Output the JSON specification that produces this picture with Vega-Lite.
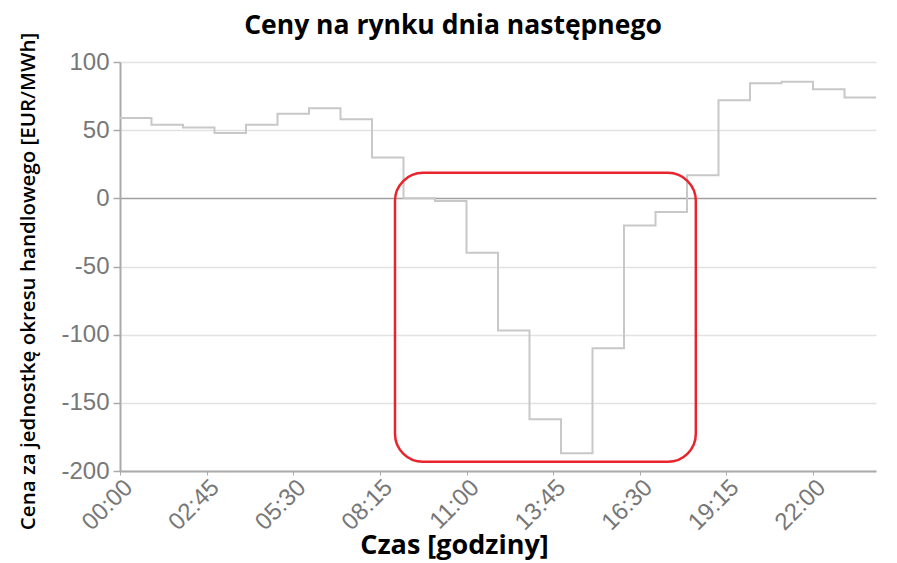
{
  "$schema": "https://vega.github.io/schema/vega-lite/v6.json",
  "autosize": "none",
  "width": 756,
  "height": 409,
  "padding": {"left": 120, "top": 62, "right": 21, "bottom": 92},
  "background": "white",
  "title": {
    "text": "Ceny na rynku dnia następnego",
    "font": "Open Sans",
    "fontSize": 26.5,
    "fontWeight": "bold",
    "color": "black",
    "anchor": "middle",
    "baseline": "alphabetic",
    "dx": -45,
    "dy": 28,
    "offset": 0
  },
  "datasets": {
    "ceny": [
      {"godzina": 0, "cena": 59},
      {"godzina": 1, "cena": 54},
      {"godzina": 2, "cena": 52},
      {"godzina": 3, "cena": 48},
      {"godzina": 4, "cena": 54},
      {"godzina": 5, "cena": 62},
      {"godzina": 6, "cena": 66},
      {"godzina": 7, "cena": 58},
      {"godzina": 8, "cena": 30},
      {"godzina": 9, "cena": 0},
      {"godzina": 10, "cena": -2},
      {"godzina": 11, "cena": -40},
      {"godzina": 12, "cena": -97},
      {"godzina": 13, "cena": -162},
      {"godzina": 14, "cena": -187},
      {"godzina": 15, "cena": -110},
      {"godzina": 16, "cena": -20},
      {"godzina": 17, "cena": -10},
      {"godzina": 18, "cena": 17},
      {"godzina": 19, "cena": 72},
      {"godzina": 20, "cena": 84.5},
      {"godzina": 21, "cena": 85.5},
      {"godzina": 22, "cena": 80},
      {"godzina": 23, "cena": 74},
      {"godzina": 24, "cena": 74}
    ],
    "ramka": [
      {"od": 8.73, "do": 18.28, "gora": 18.7, "dol": -193.2}
    ]
  },
  "layer": [
    {
      "data": {"name": "ceny"},
      "mark": {"type": "line", "interpolate": "step-after", "color": "#c8c8c8", "strokeWidth": 2},
      "encoding": {
        "x": {
          "field": "godzina",
          "type": "quantitative",
          "scale": {"domain": [0, 24], "nice": false, "zero": false},
          "axis": {
            "title": "Czas [godziny]",
            "titleFont": "Open Sans",
            "titleFontSize": 27,
            "titleFontWeight": "bold",
            "titleColor": "black",
            "titleX": 334,
            "titleY": 82,
            "titleBaseline": "alphabetic",
            "titleAnchor": "middle",
            "values": [0, 2.75, 5.5, 8.25, 11, 13.75, 16.5, 19.25, 22],
            "labelExpr": "pad(floor(datum.value) + '', 2, '0', 'left') + ':' + pad(round((datum.value - floor(datum.value)) * 60) + '', 2, '0', 'left')",
            "labelAngle": -45,
            "labelFont": "Liberation Sans",
            "labelFontSize": 24,
            "labelColor": "#777777",
            "labelPadding": 0,
            "grid": false,
            "domainColor": "#aaaaaa",
            "domainWidth": 2,
            "tickColor": "#aaaaaa",
            "tickSize": 4
          }
        },
        "y": {
          "field": "cena",
          "type": "quantitative",
          "scale": {"domain": [-200, 100], "nice": false},
          "axis": {
            "title": "Cena za jednostkę okresu handlowego [EUR/MWh]",
            "titleFont": "Open Sans",
            "titleFontSize": 20.5,
            "titleFontWeight": 600,
            "titleColor": "black",
            "titleAngle": -90,
            "titleX": -86,
            "titleY": 219,
            "titleBaseline": "alphabetic",
            "titleAnchor": "middle",
            "titleAlign": "center",
            "values": [-200, -150, -100, -50, 0, 50, 100],
            "labelExpr": "datum.value + ''",
            "labelFont": "Liberation Sans",
            "labelFontSize": 24,
            "labelColor": "#777777",
            "labelPadding": 4,
            "domainColor": "#aaaaaa",
            "domainWidth": 2,
            "tickColor": "#aaaaaa",
            "tickSize": 7,
            "tickWidth": 1.5,
            "grid": true,
            "gridColor": {"condition": {"test": "datum.value === 0", "value": "#a0a0a0"}, "value": "#e2e2e2"},
            "gridWidth": 1.5
          }
        }
      }
    },
    {
      "data": {"name": "ramka"},
      "mark": {"type": "rect", "filled": false, "stroke": "#e8242c", "strokeWidth": 2.5, "cornerRadius": 28},
      "encoding": {
        "x": {"field": "od", "type": "quantitative"},
        "x2": {"field": "do"},
        "y": {"field": "gora", "type": "quantitative"},
        "y2": {"field": "dol"}
      }
    }
  ],
  "config": {
    "view": {"stroke": null}
  }
}
